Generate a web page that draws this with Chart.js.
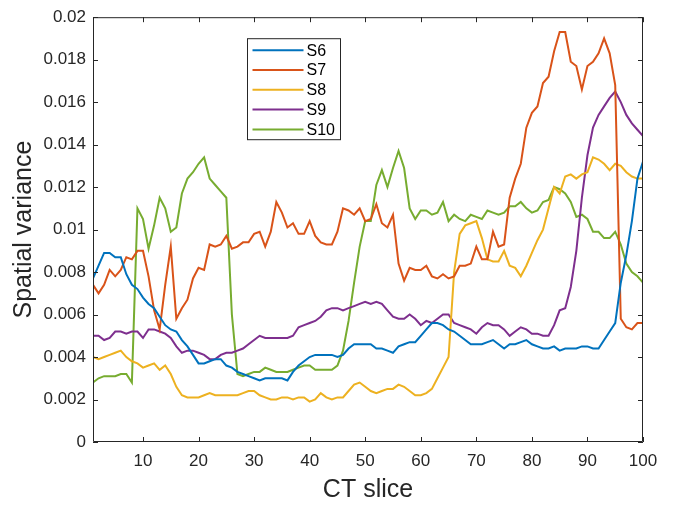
<!DOCTYPE html>
<html lang="en">
<head>
<meta charset="UTF-8">
<meta name="viewport" content="width=device-width, initial-scale=1.0">
<title>Spatial variance per CT slice</title>
<script src="https://cdn.jsdelivr.net/npm/chart.js"></script>
<style>
    html, body { margin: 0; padding: 0; background: #fff; }
    #chart-container { width: 676px; height: 507px; }
    canvas { display: block; }
</style>
</head>
<body>
<div id="chart-container">
    <canvas id="ctChart"></canvas>
</div>

<script>
    // CT slice index 1..100
    const slices = Array.from({ length: 100 }, (_, i) => i + 1);
    const xTicks = [10, 20, 30, 40, 50, 60, 70, 80, 90, 100];
    const yTicks = [0, 0.002, 0.004, 0.006, 0.008, 0.01, 0.012, 0.014, 0.016, 0.018, 0.02];
    const yTickLabels = ['0', '0.002', '0.004', '0.006', '0.008', '0.01', '0.012', '0.014', '0.016', '0.018', '0.02'];

    const seriesNames = ['S6', 'S7', 'S8', 'S9', 'S10'];
    const seriesColors = ['#0072BD', '#D95319', '#EDB120', '#7E2F8E', '#77AC30'];

    const s6 = [0.0077,0.0083,0.0089,0.0089,0.0087,0.0087,0.0079,0.0074,0.0072,0.0068,
                0.0065,0.0063,0.0059,0.0055,0.0053,0.0052,0.0048,0.0045,0.0041,0.0037,
                0.0037,0.0038,0.0039,0.0039,0.0036,0.0035,0.0033,0.0032,0.0031,0.0030,
                0.0029,0.0030,0.0030,0.0030,0.0030,0.0029,0.0033,0.0036,0.0038,0.0040,
                0.0041,0.0041,0.0041,0.0041,0.0040,0.0041,0.0044,0.0046,0.0046,0.0046,
                0.0046,0.0044,0.0044,0.0043,0.0042,0.0045,0.0046,0.0047,0.0047,0.0050,
                0.0053,0.0056,0.0056,0.0055,0.0053,0.0052,0.0050,0.0048,0.0046,0.0046,
                0.0046,0.0047,0.0048,0.0046,0.0044,0.0046,0.0046,0.0047,0.0048,0.0046,
                0.0045,0.0044,0.0044,0.0045,0.0043,0.0044,0.0044,0.0044,0.0045,0.0045,
                0.0044,0.0044,0.0048,0.0052,0.0056,0.0075,0.0088,0.0104,0.0124,0.0132];

    const s7 = [0.0074,0.0070,0.0074,0.0081,0.0078,0.0081,0.0087,0.0086,0.0090,0.0090,
                0.0078,0.0062,0.0053,0.0074,0.0092,0.0058,0.0063,0.0067,0.0077,0.0082,
                0.0081,0.0093,0.0092,0.0093,0.0097,0.0091,0.0092,0.0094,0.0094,0.0098,
                0.0099,0.0092,0.0099,0.0113,0.0108,0.0101,0.0103,0.0098,0.0098,0.0104,
                0.0097,0.0094,0.0093,0.0093,0.0099,0.0110,0.0109,0.0107,0.0110,0.0104,
                0.0105,0.0112,0.0103,0.0101,0.0107,0.0084,0.0076,0.0082,0.0081,0.0081,
                0.0083,0.0078,0.0077,0.0079,0.0077,0.0078,0.0083,0.0083,0.0084,0.0092,
                0.0086,0.0086,0.0099,0.0092,0.0093,0.0115,0.0124,0.0131,0.0148,0.0155,
                0.0158,0.0169,0.0172,0.0184,0.0193,0.0193,0.0179,0.0177,0.0166,0.0177,
                0.0179,0.0183,0.0190,0.0183,0.0168,0.0058,0.0054,0.0053,0.0056,0.0056];

    const s8 = [0.0040,0.0039,0.0040,0.0041,0.0042,0.0043,0.0040,0.0038,0.0037,0.0035,
                0.0036,0.0037,0.0034,0.0036,0.0032,0.0026,0.0022,0.0021,0.0021,0.0021,
                0.0022,0.0023,0.0022,0.0022,0.0022,0.0022,0.0022,0.0023,0.0024,0.0024,
                0.0022,0.0021,0.0020,0.0020,0.0021,0.0021,0.0020,0.0021,0.0021,0.0019,
                0.0020,0.0023,0.0021,0.0020,0.0021,0.0021,0.0024,0.0027,0.0028,0.0026,
                0.0024,0.0023,0.0024,0.0025,0.0025,0.0027,0.0026,0.0024,0.0022,0.0022,
                0.0023,0.0025,0.0030,0.0035,0.0040,0.0080,0.0098,0.0102,0.0103,0.0104,
                0.0096,0.0086,0.0085,0.0085,0.0090,0.0083,0.0082,0.0078,0.0083,0.0089,
                0.0095,0.0100,0.0110,0.0120,0.0117,0.0125,0.0126,0.0124,0.0126,0.0127,
                0.0134,0.0133,0.0131,0.0128,0.0131,0.0130,0.0127,0.0125,0.0124,0.0124];

    const s9 = [0.0050,0.0050,0.0048,0.0049,0.0052,0.0052,0.0051,0.0052,0.0052,0.0049,
                0.0053,0.0053,0.0052,0.0051,0.0049,0.0045,0.0042,0.0043,0.0043,0.0042,
                0.0041,0.0039,0.0039,0.0041,0.0042,0.0042,0.0043,0.0044,0.0046,0.0048,
                0.0050,0.0049,0.0049,0.0049,0.0049,0.0049,0.0050,0.0054,0.0055,0.0056,
                0.0057,0.0059,0.0062,0.0063,0.0063,0.0062,0.0063,0.0064,0.0065,0.0066,
                0.0065,0.0066,0.0065,0.0062,0.0059,0.0058,0.0058,0.0060,0.0058,0.0055,
                0.0057,0.0056,0.0058,0.0060,0.0060,0.0056,0.0055,0.0054,0.0053,0.0051,
                0.0054,0.0056,0.0055,0.0055,0.0053,0.0050,0.0052,0.0054,0.0053,0.0051,
                0.0051,0.0050,0.0050,0.0055,0.0062,0.0063,0.0073,0.0090,0.0115,0.0135,
                0.0148,0.0154,0.0158,0.0162,0.0165,0.0160,0.0154,0.0150,0.0147,0.0144];

    const s10 = [0.0028,0.0030,0.0031,0.0031,0.0031,0.0032,0.0032,0.0028,0.0110,0.0105,
                 0.0091,0.0102,0.0115,0.0110,0.0099,0.0101,0.0117,0.0124,0.0127,0.0131,
                 0.0134,0.0124,0.0121,0.0118,0.0115,0.0060,0.0032,0.0031,0.0032,0.0033,
                 0.0033,0.0035,0.0034,0.0033,0.0033,0.0033,0.0034,0.0035,0.0036,0.0036,
                 0.0034,0.0034,0.0034,0.0034,0.0036,0.0043,0.0057,0.0075,0.0092,0.0104,
                 0.0104,0.0121,0.0128,0.0120,0.0129,0.0137,0.0129,0.0110,0.0105,0.0109,
                 0.0109,0.0107,0.0108,0.0113,0.0104,0.0107,0.0105,0.0104,0.0107,0.0106,
                 0.0105,0.0109,0.0108,0.0107,0.0108,0.0111,0.0111,0.0113,0.0110,0.0108,
                 0.0109,0.0113,0.0114,0.0120,0.0119,0.0117,0.0113,0.0106,0.0107,0.0105,
                 0.0099,0.0099,0.0096,0.0096,0.0099,0.0093,0.0084,0.0080,0.0078,0.0075];

    const seriesValues = [s6, s7, s8, s9, s10];

    const axisColor = '#262626';
    const fontFamily = "'Liberation Sans', Arial, Helvetica, sans-serif";

    // box around the axes plus inward tick marks on all four sides (MATLAB look)
    const axesBox = {
        id: 'axesBox',
        afterDatasetsDraw(chart) {
            const { ctx, chartArea: a, scales: { x, y } } = chart;
            const tl = 5;
            ctx.save();
            ctx.strokeStyle = axisColor;
            ctx.lineWidth = 1;
            ctx.beginPath();
            ctx.rect(a.left + 0.5, a.top + 0.5, a.right - a.left - 1, a.bottom - a.top - 1);
            xTicks.forEach(v => {
                const px = Math.round(x.getPixelForValue(v)) + 0.5;
                ctx.moveTo(px, a.bottom); ctx.lineTo(px, a.bottom - tl);
                ctx.moveTo(px, a.top); ctx.lineTo(px, a.top + tl);
            });
            yTicks.forEach(v => {
                const py = Math.round(y.getPixelForValue(v)) + 0.5;
                ctx.moveTo(a.left, py); ctx.lineTo(a.left + tl, py);
                ctx.moveTo(a.right, py); ctx.lineTo(a.right - tl, py);
            });
            ctx.stroke();
            ctx.restore();
        }
    };

    // legend box inside the axes, upper middle-left
    const insideLegend = {
        id: 'insideLegend',
        afterDraw(chart) {
            const { ctx, chartArea: a } = chart;
            const bx = a.left + 154.5, by = a.top + 21.5, bw = 93, bh = 101;
            const rowH = 19.8;
            ctx.save();
            ctx.fillStyle = '#fff';
            ctx.fillRect(bx, by, bw, bh);
            ctx.strokeStyle = axisColor;
            ctx.lineWidth = 1;
            ctx.strokeRect(bx, by, bw, bh);
            ctx.font = '16px ' + fontFamily;
            ctx.textBaseline = 'middle';
            ctx.textAlign = 'left';
            chart.data.datasets.forEach((ds, i) => {
                const cy = by + 11.5 + i * rowH;
                ctx.strokeStyle = ds.borderColor;
                ctx.lineWidth = 2;
                ctx.beginPath();
                ctx.moveTo(bx + 5, cy);
                ctx.lineTo(bx + 56, cy);
                ctx.stroke();
                ctx.fillStyle = '#000';
                ctx.fillText(ds.label, bx + 59, cy + 1);
            });
            ctx.restore();
        }
    };

    const ctx = document.getElementById('ctChart').getContext('2d');
    const ctChart = new Chart(ctx, {
        type: 'line',
        data: {
            datasets: seriesNames.map((name, i) => ({
                label: name,
                data: slices.map((s, j) => ({ x: s, y: seriesValues[i][j] })),
                borderColor: seriesColors[i],
                backgroundColor: seriesColors[i],
                borderWidth: 2,
                pointRadius: 0,
                pointHoverRadius: 0,
                fill: false,
                tension: 0
            }))
        },
        options: {
            responsive: true,
            maintainAspectRatio: false,
            animation: false,
            events: [],
            layout: { padding: { left: 0, right: 33, top: 15, bottom: 0 } },
            plugins: {
                legend: { display: false },
                tooltip: { enabled: false }
            },
            scales: {
                x: {
                    type: 'linear',
                    min: 1,
                    max: 100,
                    afterBuildTicks: scale => { scale.ticks = xTicks.map(v => ({ value: v })); },
                    afterFit: scale => { scale.height = 65; },
                    grid: { display: false, drawTicks: false },
                    border: { display: false },
                    ticks: {
                        color: axisColor,
                        padding: 9,
                        maxRotation: 0,
                        font: { family: fontFamily, size: 17 }
                    },
                    title: {
                        display: true,
                        text: 'CT slice',
                        color: axisColor,
                        padding: { top: 0, bottom: 2 },
                        font: { family: fontFamily, size: 25 }
                    }
                },
                y: {
                    min: 0,
                    max: 0.02,
                    afterBuildTicks: scale => { scale.ticks = yTicks.map(v => ({ value: v })); },
                    afterFit: scale => { scale.width = 93; },
                    grid: { display: false, drawTicks: false },
                    border: { display: false },
                    ticks: {
                        color: axisColor,
                        padding: 7,
                        callback: (value, index) => yTickLabels[index],
                        font: { family: fontFamily, size: 17 }
                    },
                    title: {
                        display: true,
                        text: 'Spatial variance',
                        color: axisColor,
                        padding: { top: 9, bottom: 0 },
                        font: { family: fontFamily, size: 25 }
                    }
                }
            }
        },
        plugins: [axesBox, insideLegend]
    });
</script>
</body>
</html>
